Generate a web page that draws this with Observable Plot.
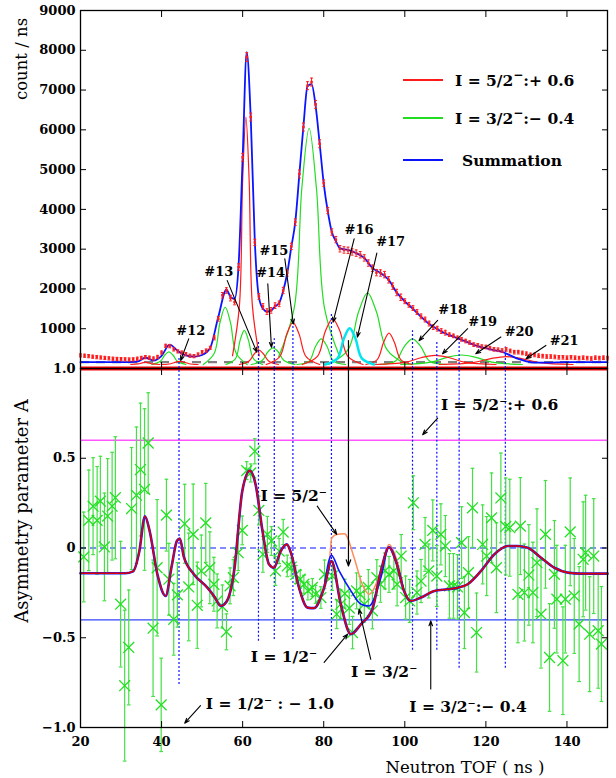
<!DOCTYPE html>
<html><head><meta charset="utf-8">
<script src="https://cdn.jsdelivr.net/npm/d3@7"></script>
<script src="https://cdn.jsdelivr.net/npm/@observablehq/plot@0.6"></script>
<style>
body{margin:0;background:#fff}
#wrap{position:relative;width:616px;height:778px;overflow:hidden}
#wrap svg{position:absolute;left:0}
</style></head>
<body><div id="wrap"></div>
<script>
// ---------- top panel data ----------
const countTOF = d3.range(20, 151, 1);
const counts = [330,320,310,295,285,275,265,255,245,240,
 235,230,225,230,245,265,285,270,250,290,
 400,570,560,480,430,400,360,320,310,350,
 410,450,520,770,1250,1840,1960,1770,1670,2550,
 5310,7830,6320,3170,1810,1560,1430,1460,1580,1625,
 1960,2400,3070,3680,4890,6070,7110,7200,6640,5650,
 4660,3970,3430,3240,3010,2980,2970,2930,2900,2860,
 2780,2650,2520,2410,2400,2360,2230,2070,1910,1790,
 1690,1600,1520,1420,1310,1230,1130,1040,1000,940,
 900,850,820,770,730,690,650,600,580,550,
 540,510,480,470,450,480,440,410,410,390,
 370,340,340,320,310,300,300,290,280,280,
 270,280,270,260,270,260,250,270,260,270,
 260];
const countErr = [40,40,40,40,40,40,40,40,40,40,
 40,40,40,40,40,40,40,40,40,40,
 40,40,40,40,40,40,40,40,40,40,
 40,40,40,50,60,70,70,70,70,80,
 100,110,100,80,70,70,70,70,70,70,
 80,80,80,80,100,100,100,100,100,100,
 80,80,80,80,80,80,80,80,80,80,
 80,80,80,80,80,80,80,80,80,80,
 60,60,60,60,60,60,60,60,60,60,
 60,45,45,45,45,45,45,45,45,45,
 45,45,45,45,45,45,45,45,45,45,
 45,45,45,45,45,45,45,45,45,45,
 45,45,45,45,45,45,45,45,45,45,
 45];
const sumTOF = [20,30,34,36,38,40,42,44,46,48,50,52,54,56,57,58,59,60,61,62,63,64,65,66,67,68,69,70,71,72,73,74,75,76,77,78,79,80,81,82,83,84,86,88,90,92,94,96,98,100,102,104,106,108,110,112,114,116,118,120,122,124,126,128,130,132,135,140,145,150];
const sumCount = [160,160,175,270,200,320,600,440,330,300,340,520,1300,1980,1800,1750,2600,5300,7950,6300,3200,1800,1500,1430,1460,1560,1650,1950,2400,3050,3700,4900,6100,7100,7150,6600,5650,4650,3950,3430,3200,3020,2980,2900,2780,2530,2400,2230,1910,1690,1500,1300,1120,990,880,800,720,640,560,510,460,420,330,240,180,150,150,160,160,160];

// component peaks (I = 5/2-, red)
const redPeaks = [
 [[32.4,100],[34.2,115],[35.2,140],[36,160],[36.8,140],[37.8,115],[39.6,100]],
 [[40,100],[42.3,120],[43.5,160],[44.5,180],[45.5,160],[46.8,120],[49,100]],
 [[57.5,320],[59.2,1580],[60,4740],[60.8,6320],[61.6,4740],[62.4,1580],[64.1,320]],
 [[59.2,100],[61.6,190],[62.9,370],[64,460],[65.1,370],[66.4,190],[68.8,100]],
 [[65.8,100],[69.1,290],[70.9,870],[72.4,1160],[73.9,870],[75.7,290],[79,100]],
 [[74.7,100],[78.5,313],[80.4,938],[82.2,1250],[84,938],[85.9,313],[89.7,100]],
 [[90.4,100],[93.2,223],[94.8,668],[96.1,890],[97.4,668],[99,223],[101.8,100]],
 [[92.5,100],[100,155],[104,270],[107.5,330],[111,270],[115,155],[122.5,100]],
 [[108.5,100],[116.8,150],[121.2,250],[125,300],[128.8,250],[133.2,150],[141.5,100]]
];
// component peaks (I = 3/2-, green)
const greenPeaks = [
 [[37.6,100],[39.7,180],[40.8,340],[41.8,420],[42.8,340],[43.9,180],[46,100]],
 [[50.3,100],[53,385],[54.4,1155],[55.7,1540],[57,1155],[58.4,385],[61.1,100]],
 [[55.9,100],[58.2,240],[59.4,720],[60.4,960],[61.4,720],[62.7,240],[64.9,100]],
 [[62.1,100],[64.8,200],[66.2,415],[67.5,520],[68.8,415],[70.2,200],[72.9,100]],
 [[68.9,302],[72.7,1510],[74.6,4530],[76.4,6040],[78.2,4530],[80.2,1510],[83.9,302]],
 [[73.4,100],[76.4,186],[78,559],[79.4,745],[80.8,559],[82.4,186],[85.4,100]],
 [[81.2,100],[86,475],[88.6,1425],[90.8,1900],[93,1425],[95.6,475],[100.4,100]],
 [[93.5,100],[97.7,186],[99.9,559],[101.9,745],[103.9,559],[106.1,186],[110.3,100]],
 [[99,100],[106.5,160],[110.5,280],[114,340],[117.5,280],[121.5,160],[129,100]]
];
const cyanPeaks = [
 [[80.4,100],[83.4,254],[85,761],[86.4,1015],[87.8,761],[89.4,254],[92.4,100]]
];
const bgLevel = [160];
const zeroLevel = [0];

const markTOF = [44.3,63.9,67.8,72.4,81.9,101.9,107.9,113.4,124.8];
const markTopCount = [250,700,750,1200,1400,950,700,800,540];
const markLowA = [-0.76,-0.52,-0.51,-0.51,-0.51,-0.57,-0.57,-0.67,-0.67];

const peakLabels = ["#12","#13","#14","#15","#16","#17","#18","#19","#20","#21"];
const labelTOF = [47.2,54.1,66.9,67.7,88.7,96.5,111.8,119.2,128.2,139.3];
const labelCount = [955,2420,2400,2965,3490,3180,1475,1165,910,700];
const arrowTOF1 = [46.7,56.2,66.2,70.4,87.5,93.1,108.1,115.5,123.7,134.8];
const arrowCount1 = [745,2210,2130,2760,3260,2900,1210,1000,790,580];
const arrowTOF2 = [44.7,63.5,67.1,72.5,82.3,88.3,103.5,109.3,117.5,129.9];
const arrowCount2 = [200,410,535,1120,1165,790,700,370,370,245];

const blackArrowTOF = [86.1];
const blackArrowTopCount = [700];
const blackArrowEndA = [-0.1];

// ---------- bottom panel data ----------
const asymTOF = [20.8,22.05,23.1,24.1,24.9,25.9,26.7,27.8,28.6,29.9,30.9,31.9,32.6,33.8,34.8,35.8,36.7,37.9,38.9,39.9,
 41.2,41.8,43,43.9,45.7,46.7,47.8,48.8,49.8,50.9,51.9,52.9,53.7,55,56,56.9,57.7,58.9,59.9,61,
 62,63,64,65,66.1,67.1,68.1,69,70,71,72,73.1,74.2,75.1,76.1,77.2,78,79.3,80.2,82.1,
 83.2,84.2,85.2,86.3,87.1,88.1,89,90,91,92,93.1,94,95.1,96.1,97.3,98.1,99.1,100.2,101.2,102.1,
 103,104,105,105.9,106.9,107.9,108.9,110,111,112,113,114,114.7,115.7,116.7,117.7,119.2,120.2,121.4,122.6,
 123.7,124.9,125.9,127.9,128.5,129.5,130.6,131.6,132.6,133.6,134.7,135.7,136.9,137.5,139,139.6,140.8,141.8,143,144,
 144.6,145.6,146.6,147.7,148.5];
const asymA = [-0.05,0.154,0.233,0.154,0.261,0.006,0.178,0.233,0.28,-0.313,-0.767,-0.554,0.22,0.294,0.437,0.326,0.585,-0.447,-0.11,-0.874,
 0.183,-0.174,-0.397,-0.261,0.135,-0.217,0.076,-0.319,-0.128,0.14,-0.11,-0.202,-0.295,-0.326,-0.467,-0.211,-0.165,-0.026,0.098,0.431,
 0.418,0.539,0.209,-0.035,0.076,0.039,-0.128,-0.017,0.089,-0.1,-0.106,-0.147,-0.174,-0.202,-0.239,-0.22,-0.258,-0.276,-0.147,-0.156,
 -0.369,-0.313,-0.254,-0.335,-0.471,-0.239,-0.258,-0.313,-0.22,-0.35,-0.165,-0.202,-0.128,-0.147,-0.128,-0.202,-0.045,-0.276,-0.295,0.252,
 -0.248,-0.184,0.02,-0.128,0.098,-0.156,0.076,0.011,-0.211,-0.211,-0.217,0.03,-0.36,-0.137,0.224,-0.471,0.02,-0.045,0.168,-0.11,
 0.279,0.12,0.113,-0.258,0.122,-0.248,-0.15,-0.248,-0.082,-0.369,0.076,-0.61,-0.147,-0.285,-0.628,-0.285,0.09,-0.267,-0.424,-0.063,
 -0.026,-0.48,-0.045,-0.461,-0.535];
const asymErr = [0.25,0.28,0.27,0.3,0.25,0.3,0.32,0.3,0.34,0.35,0.42,0.32,0.34,0.38,0.37,0.45,0.28,0.38,0.38,0.26,
 0.2,0.2,0.2,0.18,0.22,0.3,0.28,0.24,0.2,0.22,0.2,0.15,0.15,0.12,0.1,0.1,0.1,0.1,0.08,0.05,
 0.05,0.07,0.08,0.1,0.1,0.08,0.08,0.07,0.07,0.06,0.05,0.05,0.05,0.05,0.05,0.05,0.05,0.06,0.08,0.08,
 0.08,0.08,0.08,0.09,0.09,0.1,0.1,0.1,0.1,0.1,0.1,0.1,0.1,0.1,0.1,0.12,0.12,0.12,0.12,0.15,
 0.12,0.12,0.15,0.15,0.17,0.17,0.17,0.17,0.18,0.18,0.18,0.2,0.2,0.2,0.22,0.22,0.22,0.22,0.25,0.25,
 0.25,0.27,0.27,0.27,0.27,0.27,0.28,0.28,0.3,0.3,0.3,0.3,0.3,0.3,0.3,0.3,0.3,0.32,0.32,0.32,
 0.32,0.32,0.32,0.32,0.32];

// fitted curve, I = 1/2- (all three coincide outside 80-100 ns)
const fitTOF = [20,31,33,34.5,35.9,37,39,41,42.5,43.8,44.5,45.5,48,51.3,53,54.6,56,57.9,59.9,61.8,63.2,64.9,66.5,67.7,69.4,70.9,71.9,73.9,76,77.6,80.1,81.9,84.2,86.7,89.2,92,94.1,96.1,97.8,99.8,101.5,104,107.3,110.6,113.1,115.5,118.8,122.1,125.4,127.8,130.3,133.6,136.9,140.2,143.5,148.4,150];
const fitHalf = [-0.141,-0.141,-0.13,-0.02,0.177,0.1,-0.15,-0.267,-0.1,0.04,0.052,-0.05,-0.147,-0.221,-0.27,-0.323,-0.3,-0.128,0.316,0.431,0.353,0.094,-0.091,-0.11,-0.017,0.02,-0.026,-0.221,-0.332,-0.335,-0.221,-0.073,-0.313,-0.48,-0.424,-0.341,-0.128,0.004,-0.073,-0.239,-0.295,-0.276,-0.239,-0.23,-0.221,-0.202,-0.128,-0.035,0.011,0.011,0.002,-0.054,-0.11,-0.137,-0.143,-0.143,-0.143];
const fit32TOF = [80.1,81.9,83.8,86.7,89.2,91.2,94.1,96.1,97.8,99.8];
const fit32A = [-0.221,-0.041,-0.128,-0.239,-0.313,-0.323,-0.165,0.004,-0.073,-0.239];
const fit52TOF = [80.1,81.3,82,83.4,85.1,87.5,89.5,91.2,94.1,96.1,98.1,99.8];
const fit52A = [-0.221,-0.1,0.057,0.076,0.079,-0.054,-0.202,-0.258,-0.128,0.02,-0.073,-0.239];

const levelPlus = [0.6];
const levelMinus = [-0.4];
const levelZero = [0];

const noteText = ["I = 5/2⁻:+ 0.6","I = 5/2⁻","I = 1/2⁻","I = 3/2⁻","I = 3/2⁻:− 0.4","I = 1/2⁻ : − 1.0"];
const noteTOF = [108.9,64.4,62,86.7,101.1,50.9];
const noteA = [0.798,0.289,-0.609,-0.693,-0.887,-0.869];
const noteArrowTOF1 = [108.1,78.4,80.1,91.6,106.4,49.6];
const noteArrowA1 = [0.724,0.233,-0.637,-0.62,-0.785,-0.878];
const noteArrowTOF2 = [104.4,83.2,85.9,88.7,106.4,45.7];
const noteArrowA2 = [0.631,0.076,-0.48,-0.341,-0.406,-0.976];

const xTicks = [20,40,60,80,100,120,140];
const topYTicks = [0,1000,2000,3000,4000,5000,6000,7000,8000,9000];
const topYLabels = [1000,2000,3000,4000,5000,6000,7000,8000,9000];
const botYTicks = [-1,-0.5,0,0.5,1];

// ---------- tables ----------
const countRows = countTOF.map((x,i)=>({x, y:counts[i], lo:counts[i]-countErr[i], hi:counts[i]+countErr[i]}));
const sumRows = sumTOF.map((x,i)=>({x, y:sumCount[i]}));
const toRows = (peaks, tag) => peaks.flatMap((p,i)=>p.map(([x,y])=>({x,y,id:tag+i})));
const redRows = toRows(redPeaks,"r"), greenRows = toRows(greenPeaks,"g"), cyanRows = toRows(cyanPeaks,"c");
const markRows = markTOF.map((x,i)=>({x, top:markTopCount[i], low:markLowA[i]}));
const labelRows = peakLabels.map((t,i)=>({t, x:labelTOF[i], y:labelCount[i], x1:arrowTOF1[i], y1:arrowCount1[i], x2:arrowTOF2[i], y2:arrowCount2[i]}));
const asymRows = asymTOF.map((x,i)=>({x, y:asymA[i], lo:asymA[i]-asymErr[i], hi:asymA[i]+asymErr[i]}));
const fitRows = fitTOF.map((x,i)=>({x, y:fitHalf[i]}));
const fit32Rows = fit32TOF.map((x,i)=>({x, y:fit32A[i]}));
const fit52Rows = fit52TOF.map((x,i)=>({x, y:fit52A[i]}));
const noteRows = noteText.map((t,i)=>({t, x:noteTOF[i], y:noteA[i], x1:noteArrowTOF1[i], y1:noteArrowA1[i], x2:noteArrowTOF2[i], y2:noteArrowA2[i]}));
const blackRows = blackArrowTOF.map((x,i)=>({x, top:blackArrowTopCount[i], end:blackArrowEndA[i]}));

const FONT = "'DejaVu Serif', serif";
const blank = () => "";
const RED = "#ff1a1a", GREEN = "#22dd22", BLUE = "#0a14ff";

const topChart = Plot.plot({
  width: 616, height: 368,
  marginLeft: 80, marginRight: 9, marginTop: 10, marginBottom: 0,
  x: {domain: [20,150], label: null},
  y: {domain: [0,9000], label: null},
  style: {fontFamily: FONT, fontSize: "13px", fontWeight: "bold", color: "black", background: "transparent", overflow: "visible"},
  marks: [
    Plot.ruleY(zeroLevel, {stroke: "#ff0000", strokeWidth: 4}),
    Plot.ruleY(bgLevel, {stroke: "#808080", strokeWidth: 2.2, strokeDasharray: "9,7"}),
    Plot.line(greenRows, {x:"x", y:"y", z:"id", stroke: GREEN, strokeWidth: 1.2, curve: "catmull-rom"}),
    Plot.line(redRows, {x:"x", y:"y", z:"id", stroke: RED, strokeWidth: 1.2, curve: "catmull-rom"}),
    Plot.line(cyanRows, {x:"x", y:"y", z:"id", stroke: "#00e5f0", strokeWidth: 2.5, curve: "catmull-rom"}),
    Plot.ruleX(markRows, {x:"x", y1: 0, y2:"top", stroke: BLUE, strokeWidth: 1.2, strokeDasharray: "2,2"}),
    Plot.ruleX(blackRows, {x:"x", y1: 0, y2:"top", stroke: "black", strokeWidth: 1.2}),
    Plot.line(sumRows, {x:"x", y:"y", stroke: BLUE, strokeWidth: 1.8, curve: "monotone-x"}),
    Plot.ruleX(countRows, {x:"x", y1:"lo", y2:"hi", stroke: RED, strokeWidth: 1}),
    Plot.link(countRows, {x1: d=>d.x-0.35, x2: d=>d.x+0.35, y1:"hi", y2:"hi", stroke: RED, strokeWidth: 1}),
    Plot.link(countRows, {x1: d=>d.x-0.35, x2: d=>d.x+0.35, y1:"lo", y2:"lo", stroke: RED, strokeWidth: 1}),
    Plot.dot(countRows, {x:"x", y:"y", r: 1.4, symbol: "square", fill: RED}),
    Plot.arrow(labelRows, {x1:"x1", y1:"y1", x2:"x2", y2:"y2", stroke: "black", strokeWidth: 1.1, headLength: 7, headAngle: 40}),
    Plot.text(labelRows, {x:"x", y:"y", text:"t", fontSize: 13, fontWeight: "bold", fill: "black"}),
    Plot.axisY(topYLabels, {tickSize: 0, tickPadding: 5, tickFormat: d3.format("d"), label: null}),
    Plot.axisY(topYTicks, {tickSize: -6, tickFormat: blank, label: null}),
    Plot.axisY(topYTicks, {anchor: "right", tickSize: -6, tickFormat: blank, label: null}),
    Plot.axisX(xTicks, {anchor: "top", tickSize: -6, tickFormat: blank, label: null}),
    Plot.axisX(xTicks, {anchor: "bottom", tickSize: -6, tickFormat: blank, label: null}),
    Plot.frame({stroke: "black", strokeWidth: 1.3})
  ]
});

const fmtA = d => d === 0 ? "0" : d3.format(".1f")(d).replace("-", "−");
const botChart = Plot.plot({
  width: 616, height: 410,
  marginLeft: 80, marginRight: 9, marginTop: 0, marginBottom: 51,
  x: {domain: [20,150], label: null},
  y: {domain: [-1,1], label: null},
  style: {fontFamily: FONT, fontSize: "13px", fontWeight: "bold", color: "black", background: "transparent", overflow: "visible"},
  marks: [
    Plot.ruleY(levelPlus, {stroke: "#ff55ff", strokeWidth: 1.5}),
    Plot.ruleY(levelMinus, {stroke: "#3344ff", strokeWidth: 1.2}),
    Plot.ruleY(levelZero, {stroke: BLUE, strokeWidth: 1.1, strokeDasharray: "6,4"}),
    Plot.ruleX(markRows, {x:"x", y1:"low", y2: 1, stroke: BLUE, strokeWidth: 1.2, strokeDasharray: "2,2"}),
    Plot.ruleX(asymRows, {x:"x", y1:"lo", y2:"hi", stroke: "#44e044", strokeWidth: 1.2}),
    Plot.link(asymRows, {x1: d=>d.x-0.45, x2: d=>d.x+0.45, y1:"hi", y2:"hi", stroke: "#44e044", strokeWidth: 1.2}),
    Plot.link(asymRows, {x1: d=>d.x-0.45, x2: d=>d.x+0.45, y1:"lo", y2:"lo", stroke: "#44e044", strokeWidth: 1.2}),
    Plot.dot(asymRows, {x:"x", y:"y", symbol: "times", r: 5, stroke: "#22e022", strokeWidth: 1.3}),
    Plot.line(fit52Rows, {x:"x", y:"y", stroke: "#ff8c5a", strokeWidth: 1.5, curve: "monotone-x"}),
    Plot.line(fit32Rows, {x:"x", y:"y", stroke: BLUE, strokeWidth: 1.6, curve: "monotone-x"}),
    Plot.line(fitRows, {x:"x", y:"y", stroke: "#1a1aff", strokeWidth: 2.6, curve: "monotone-x"}),
    Plot.line(fitRows, {x:"x", y:"y", stroke: "#dd0000", strokeWidth: 1.6, curve: "monotone-x"}),
    Plot.arrow(blackRows, {x1:"x", y1: 1, x2:"x", y2:"end", stroke: "black", strokeWidth: 1.2, headLength: 8, headAngle: 40}),
    Plot.arrow(noteRows, {x1:"x1", y1:"y1", x2:"x2", y2:"y2", stroke: "black", strokeWidth: 1.1, headLength: 7, headAngle: 40}),
    Plot.text(noteRows, {x:"x", y:"y", text:"t", textAnchor: "start", fontSize: 15.5, fontWeight: "bold", fill: "black"}),
    Plot.axisY(botYTicks, {tickSize: 0, tickPadding: 5, tickFormat: fmtA, label: null}),
    Plot.axisY(botYTicks, {tickSize: -6, tickFormat: blank, label: null}),
    Plot.axisY(botYTicks, {anchor: "right", tickSize: -6, tickFormat: blank, label: null}),
    Plot.axisX(xTicks, {anchor: "top", tickSize: -6, tickFormat: blank, label: null}),
    Plot.axisX(xTicks, {anchor: "bottom", tickSize: -6, tickFormat: blank, label: null}),
    Plot.axisX(xTicks, {anchor: "bottom", tickSize: 0, tickPadding: 9, label: null}),
    Plot.frame({stroke: "black", strokeWidth: 1.3})
  ]
});

const wrap = document.getElementById("wrap");
topChart.style.top = "0px";
botChart.style.top = "368px";
wrap.appendChild(topChart);
wrap.appendChild(botChart);

// titles and legend
const legendItems = ["I = 5/2", "I = 3/2", "Summation"];
const legendTails = [":+ 0.6", ":− 0.4", ""];
const legendColors = [RED, GREEN, BLUE];
const ns = "http://www.w3.org/2000/svg";
const ov = document.createElementNS(ns, "svg");
ov.setAttribute("width", 616); ov.setAttribute("height", 778);
ov.style.top = "0px"; ov.style.pointerEvents = "none";
ov.setAttribute("font-family", "DejaVu Serif, serif");
let html = "";
html += `<text transform="translate(27,59) rotate(-90)" text-anchor="middle" font-size="16.5">count / ns</text>`;
html += `<text transform="translate(28,511) rotate(-90)" text-anchor="middle" font-size="18">Asymmetry parameter A</text>`;
html += `<text x="465" y="773" text-anchor="middle" font-size="16.5">Neutron TOF ( ns )</text>`;
const ly = [80, 118, 160];
legendItems.forEach((t, i) => {
  html += `<line x1="403" x2="443" y1="${ly[i]}" y2="${ly[i]}" stroke="${legendColors[i]}" stroke-width="2"/>`;
  if (legendTails[i]) {
    html += `<text x="455" y="${ly[i] + 6}" font-size="15.5" font-weight="bold">${t}<tspan dy="-7" font-size="12">−</tspan><tspan dy="7">${legendTails[i]}</tspan></text>`;
  } else {
    html += `<text x="462" y="${ly[i] + 6}" font-size="15.5" font-weight="bold">${t}</text>`;
  }
});
ov.innerHTML = html;
wrap.appendChild(ov);
</script>
</body></html>
